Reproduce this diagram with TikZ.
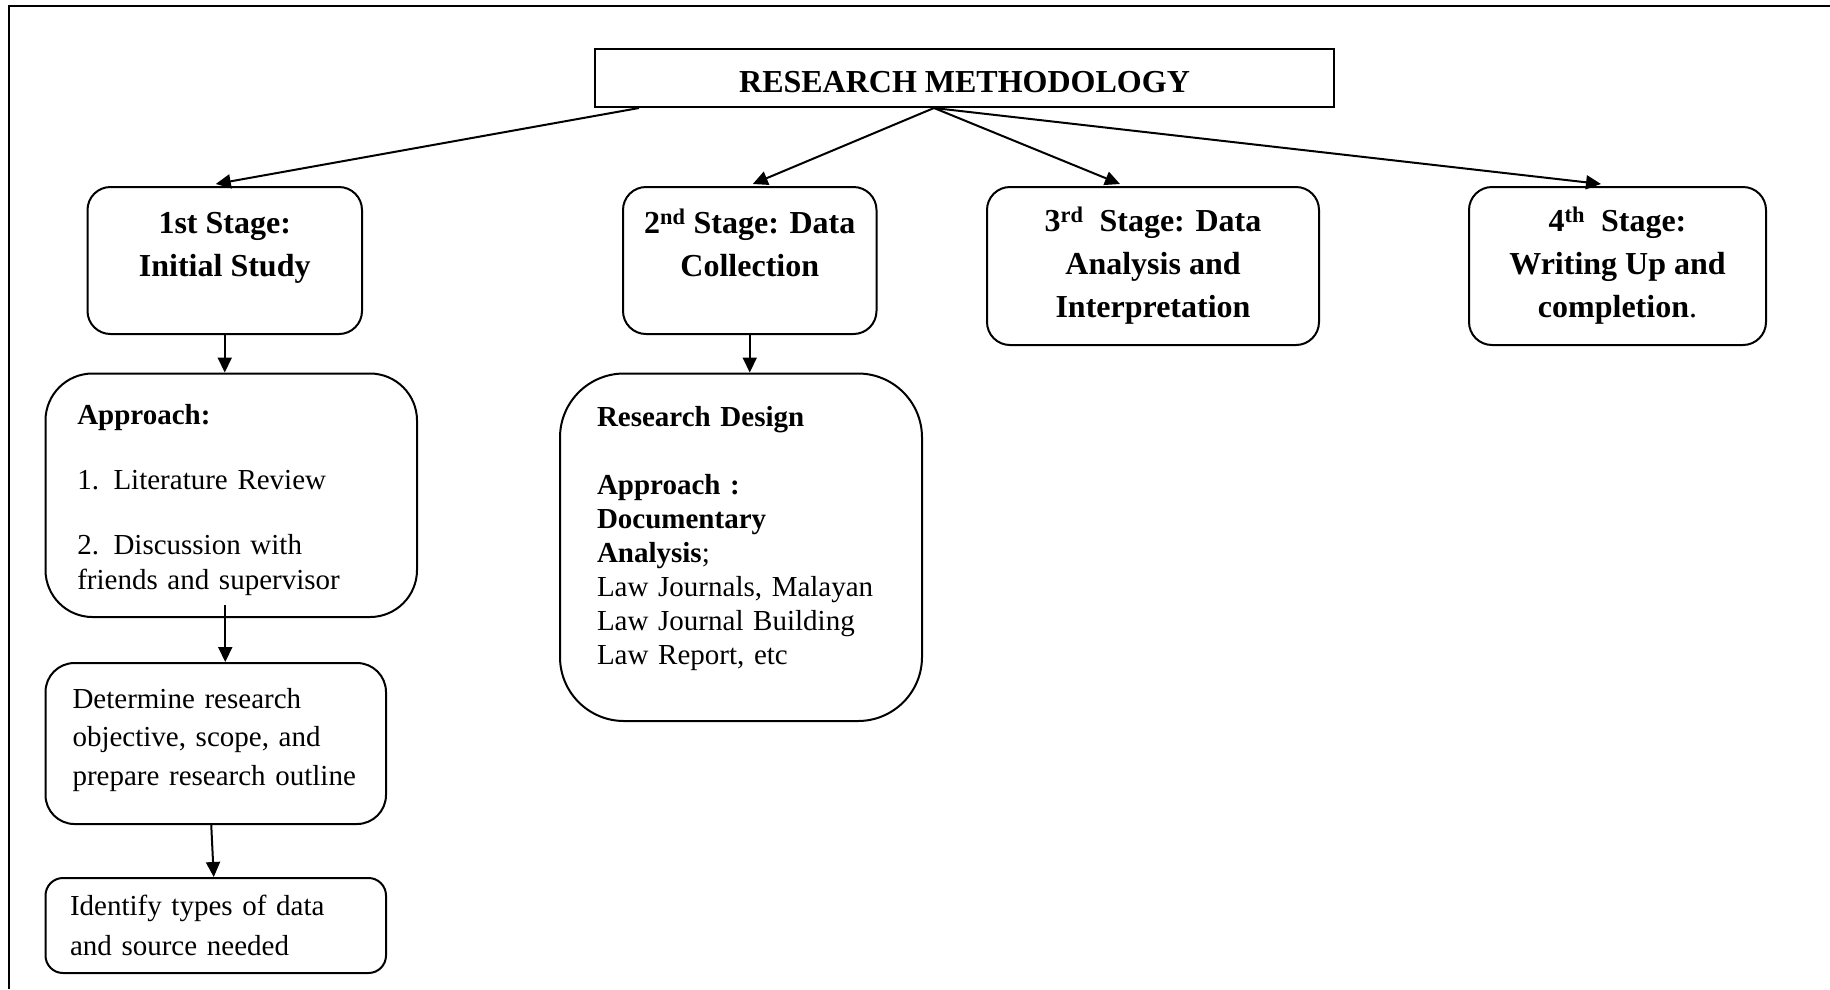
\documentclass[tikz,border=0pt]{standalone}
\usepackage{fontspec}
\setmainfont{Liberation Serif}
\usetikzlibrary{arrows.meta,calc}
\begin{document}
\begin{tikzpicture}[x=1pt,y=-1pt,
  box/.style={draw,line width=2pt,inner sep=0pt},
  stage/.style={box,rounded corners=23pt,align=center,font=\fontsize{32}{43}\selectfont\bfseries},
  body/.style={box,align=left,font=\fontsize{29}{35}\selectfont},
  arr/.style={line width=2pt,-{Triangle[length=15pt,width=14pt]}},
  frame/.style={line width=2.5pt}]
\useasboundingbox (0,0) rectangle (1830,989);
\coordinate (fTL) at (9,6);
\coordinate (fTR) at (1830,6);
\coordinate (fBL) at (9,989);
\draw[frame] (fTR) -- (fTL) -- (fBL);

\node[box,minimum width=739pt,minimum height=58pt,text height=28.5pt,text depth=0pt,font=\fontsize{32}{38}\selectfont\bfseries] (title) at (964.5,78) {RESEARCH METHODOLOGY};

\node[stage,minimum width=274.5pt,minimum height=147pt] (s1) at (224.75,260.5) {1st Stage:\\Initial Study\\[-23pt]\strut};
\node[stage,minimum width=253.5pt,minimum height=147pt] (s2) at (749.75,260.5) {2\textsuperscript{nd} Stage: Data\\Collection\\[-20pt]\strut};
\node[stage,minimum width=332pt,minimum height=158pt] (s3) at (1153,266) {3\textsuperscript{rd}\ \ Stage: Data\\Analysis and\\Interpretation};
\node[stage,minimum width=297pt,minimum height=158pt] (s4) at (1617.5,266) {4\textsuperscript{th}\ \ Stage:\\Writing Up and\\completion\textmd{.}};

\node[body,rounded corners=47pt,text width=308pt,inner xsep=31.75pt,minimum height=243.5pt] (app) at (231.25,495.25)
  {\strut\\[-30pt]\textbf{Approach:}\\[30pt]1. Literature Review\\[30pt]2. Discussion with\\friends and supervisor};
\node[body,rounded corners=64pt,text width=288pt,inner xsep=37pt,minimum height=347.5pt,font=\fontsize{29}{34}\selectfont] (rd) at (741,547.25)
  {\textbf{Research Design}\\[34pt]\textbf{Approach :}\\\textbf{Documentary}\\\textbf{Analysis};\\Law Journals, Malayan\\Law Journal Building\\Law Report, etc\\[-20pt]\strut};
\node[body,rounded corners=29pt,text width=286.5pt,inner xsep=27pt,minimum height=161pt,font=\fontsize{29}{38.5}\selectfont] (det) at (215.75,743.5)
  {Determine research\\objective, scope, and\\prepare research outline\\[-36pt]\strut};
\node[body,rounded corners=17.5pt,text width=291.5pt,inner xsep=24.5pt,minimum height=95pt,font=\fontsize{29}{39.5}\selectfont] (idf) at (215.75,925.5)
  {Identify types of data\\and source needed};

\coordinate (tA) at ($(title.south west)+(45,0)$);
\coordinate (tB) at ($(title.south)+(-30.5,0)$);
\draw[arr] (tA) -- ($(s1.north)+(-9,-2)$);
\draw[arr] (tB) -- ($(s2.north)+(3,-2)$);
\draw[arr] (tB) -- ($(s3.north)+(-33,-2)$);
\draw[arr] (tB) -- ($(s4.north)+(-16.5,-2)$);

\draw[arr] (s1.south) -- (s1.south |- app.north);
\draw[arr] (s2.south) -- (s2.south |- rd.north);
\coordinate (appOut) at ($(app.south)+(-6,-13)$);
\draw[arr] (appOut) -- (appOut |- det.north);
\draw[arr] ($(det.south)+(-4.5,0)$) -- ($(idf.north)+(-2,0)$);
\end{tikzpicture}
\end{document}
